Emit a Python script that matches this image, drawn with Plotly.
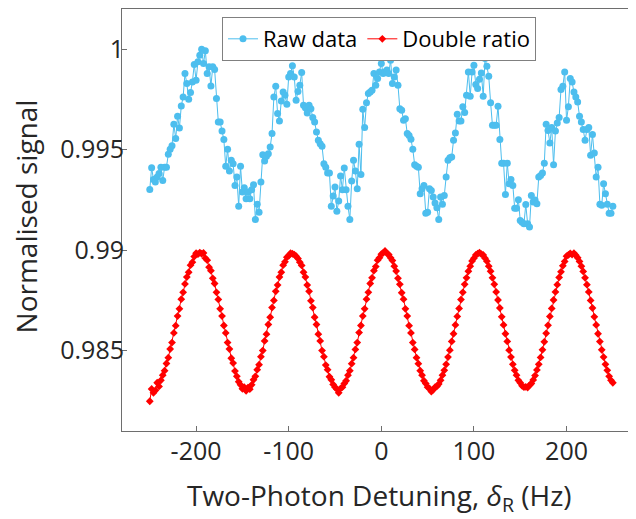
import plotly.graph_objects as go

# Detuning grid (Hz)
detuning_hz = list(range(-250, 251, 2))

# Raw data (normalised signal)
raw_data = [
    0.99302, 0.99410, 0.99351, 0.99339, 0.99364, 0.99381, 0.99413, 0.99347, 0.99413, 0.99413,
    0.99477, 0.99502, 0.99520, 0.99626, 0.99555, 0.99666, 0.99608, 0.99717, 0.99762, 0.99879,
    0.99829, 0.99751, 0.99784, 0.99837, 0.99924, 0.99846, 0.99937, 0.99970, 1.00000, 0.99929,
    0.99992, 0.99879, 0.99912, 0.99817, 0.99912, 0.99899, 0.99754, 0.99638, 0.99638, 0.99593,
    0.99550, 0.99417, 0.99502, 0.99394, 0.99447, 0.99430, 0.99322, 0.99364, 0.99219, 0.99417,
    0.99289, 0.99311, 0.99256, 0.99289, 0.99256, 0.99300, 0.99326, 0.99153, 0.99228, 0.99189,
    0.99339, 0.99475, 0.99443, 0.99467, 0.99480, 0.99513, 0.99580, 0.99762, 0.99816, 0.99680,
    0.99643, 0.99742, 0.99787, 0.99771, 0.99726, 0.99862, 0.99879, 0.99917, 0.99862, 0.99746,
    0.99790, 0.99821, 0.99884, 0.99721, 0.99708, 0.99683, 0.99721, 0.99704, 0.99660, 0.99638,
    0.99588, 0.99547, 0.99530, 0.99517, 0.99430, 0.99413, 0.99384, 0.99384, 0.99218, 0.99269,
    0.99314, 0.99193, 0.99244, 0.99369, 0.99301, 0.99409, 0.99301, 0.99219, 0.99153, 0.99344,
    0.99447, 0.99394, 0.99306, 0.99527, 0.99377, 0.99701, 0.99610, 0.99734, 0.99779, 0.99787,
    0.99796, 0.99879, 0.99821, 0.99854, 0.99887, 0.99929, 0.99879, 0.99887, 0.99896, 0.99879,
    0.99945, 0.99829, 0.99862, 0.99896, 0.99821, 0.99704, 0.99696, 0.99646, 0.99654, 0.99580,
    0.99571, 0.99552, 0.99502, 0.99425, 0.99417, 0.99413, 0.99281, 0.99306, 0.99322, 0.99184,
    0.99189, 0.99306, 0.99297, 0.99264, 0.99234, 0.99211, 0.99153, 0.99264, 0.99228, 0.99272,
    0.99364, 0.99447, 0.99460, 0.99463, 0.99547, 0.99583, 0.99676, 0.99643, 0.99643, 0.99713,
    0.99685, 0.99771, 0.99887, 0.99766, 0.99887, 0.99920, 0.99824, 0.99804, 0.99851, 0.99882,
    0.99766, 0.99954, 0.99915, 0.99865, 0.99734, 0.99621, 0.99621, 0.99621, 0.99716, 0.99550,
    0.99433, 0.99433, 0.99277, 0.99433, 0.99331, 0.99351, 0.99322, 0.99209, 0.99209, 0.99251,
    0.99148, 0.99139, 0.99131, 0.99227, 0.99131, 0.99115, 0.99272, 0.99239, 0.99250, 0.99231,
    0.99364, 0.99372, 0.99384, 0.99433, 0.99626, 0.99596, 0.99533, 0.99610, 0.99425, 0.99593,
    0.99633, 0.99660, 0.99799, 0.99816, 0.99887, 0.99646, 0.99713, 0.99854, 0.99837, 0.99787,
    0.99762, 0.99737, 0.99666, 0.99638, 0.99600, 0.99547, 0.99600, 0.99610, 0.99472, 0.99576,
    0.99483, 0.99364, 0.99413, 0.99228, 0.99223, 0.99331, 0.99281, 0.99228, 0.99184, 0.99184,
    0.99218,
]

# Double ratio
double_ratio = [
    0.98248, 0.98309, 0.98290, 0.98302, 0.98340, 0.98322, 0.98352, 0.98378, 0.98400, 0.98436,
    0.98465, 0.98508, 0.98540, 0.98588, 0.98624, 0.98672, 0.98708, 0.98756, 0.98790, 0.98832,
    0.98866, 0.98890, 0.98925, 0.98940, 0.98968, 0.98985, 0.98980, 0.98988,
    0.98982, 0.98986, 0.98960, 0.98950, 0.98915, 0.98898, 0.98860, 0.98834, 0.98790, 0.98755,
    0.98708, 0.98672, 0.98625, 0.98588, 0.98540, 0.98508, 0.98462, 0.98438, 0.98398, 0.98372,
    0.98345, 0.98330, 0.98310, 0.98318, 0.98300,
    0.98316, 0.98308, 0.98330, 0.98355, 0.98372, 0.98405, 0.98430, 0.98470, 0.98500, 0.98548,
    0.98582, 0.98630, 0.98666, 0.98714, 0.98750, 0.98795, 0.98826, 0.98866, 0.98890, 0.98925,
    0.98942, 0.98965, 0.98972, 0.98985, 0.98982,
    0.98978, 0.98970, 0.98958, 0.98940, 0.98924, 0.98890, 0.98866, 0.98826, 0.98795, 0.98748,
    0.98714, 0.98666, 0.98630, 0.98582, 0.98548, 0.98500, 0.98470, 0.98428, 0.98405, 0.98370,
    0.98355, 0.98332, 0.98318, 0.98308, 0.98290,
    0.98312, 0.98318, 0.98336, 0.98350, 0.98378, 0.98400, 0.98435, 0.98465, 0.98506, 0.98540,
    0.98590, 0.98625, 0.98672, 0.98708, 0.98756, 0.98790, 0.98834, 0.98862, 0.98898, 0.98918,
    0.98950, 0.98962, 0.98980, 0.98986, 0.98996,
    0.98984, 0.98978, 0.98962, 0.98948, 0.98920, 0.98896, 0.98860, 0.98830, 0.98788, 0.98756,
    0.98708, 0.98672, 0.98624, 0.98588, 0.98540, 0.98506, 0.98465, 0.98435, 0.98400, 0.98378,
    0.98350, 0.98336, 0.98318, 0.98312, 0.98296, 0.98305,
    0.98318, 0.98322, 0.98334, 0.98352, 0.98378, 0.98402, 0.98432, 0.98468, 0.98502, 0.98546,
    0.98584, 0.98628, 0.98670, 0.98710, 0.98754, 0.98790, 0.98830, 0.98862, 0.98895, 0.98920,
    0.98946, 0.98960, 0.98976, 0.98982, 0.98988,
    0.98980, 0.98976, 0.98960, 0.98945, 0.98920, 0.98895, 0.98862, 0.98830, 0.98792, 0.98752,
    0.98712, 0.98668, 0.98628, 0.98584, 0.98546, 0.98502, 0.98468, 0.98432, 0.98402, 0.98378,
    0.98352, 0.98340, 0.98325, 0.98318, 0.98320,
    0.98316, 0.98328, 0.98336, 0.98354, 0.98376, 0.98404, 0.98432, 0.98466, 0.98504, 0.98544,
    0.98586, 0.98626, 0.98670, 0.98710, 0.98752, 0.98792, 0.98828, 0.98864, 0.98892, 0.98922,
    0.98944, 0.98970, 0.98976, 0.98984, 0.98978,
    0.98985, 0.98975, 0.98962, 0.98944, 0.98920, 0.98894, 0.98862, 0.98828, 0.98792, 0.98750,
    0.98712, 0.98668, 0.98628, 0.98584, 0.98545, 0.98504, 0.98468, 0.98432, 0.98402, 0.98372,
    0.98352, 0.98340,
]

x_tick_vals = [-200, -100, 0, 100, 200]
x_tick_text = ["-200", "-100", "0", "100", "200"]
y_tick_vals = [0.985, 0.99, 0.995, 1.0]
y_tick_text = ["0.985", "0.99", "0.995", "1"]
x_title = "Two-Photon Detuning, <i>δ</i><sub>R</sub> (Hz)"
y_title = "Normalised signal"

AXIS_COLOR = "#6e6e6e"
TEXT_COLOR = "#262626"
FONT = "Open Sans"

fig = go.Figure()
fig.add_trace(go.Scatter(
    x=detuning_hz[:len(raw_data)], y=raw_data, name="Raw data",
    mode="lines+markers",
    line=dict(color="#4DBEEE", width=1),
    marker=dict(color="#4DBEEE", size=7, symbol="circle"),
))
fig.add_trace(go.Scatter(
    x=detuning_hz[:len(double_ratio)], y=double_ratio, name="Double ratio",
    mode="lines+markers",
    line=dict(color="#FF0000", width=1),
    marker=dict(color="#FF0000", size=6, symbol="diamond"),
))

# The page body adds an 8px offset, so the figure is 8px smaller each way.
fig.update_layout(
    width=628, height=511,
    margin=dict(l=114, r=0, t=1, b=88, autoexpand=False),
    plot_bgcolor="white", paper_bgcolor="white",
    font=dict(family=FONT, color=TEXT_COLOR),
    showlegend=True,
    legend=dict(
        orientation="h", x=0.5, xanchor="center", y=0.981, yanchor="top",
        bordercolor="#808080", borderwidth=1, bgcolor="white",
        font=dict(size=22, family=FONT, color="black"),
        itemwidth=30, tracegroupgap=0,
    ),
    annotations=[
        dict(text=x_title, xref="paper", yref="paper", x=0.5, y=-0.101,
             xanchor="center", yanchor="top", showarrow=False,
             font=dict(size=28, family=FONT, color=TEXT_COLOR)),
        dict(text=y_title, xref="paper", yref="paper", x=-0.1871, y=0.508,
             xanchor="center", yanchor="middle", textangle=-90, showarrow=False,
             borderpad=0,
             font=dict(size=28, family=FONT, color=TEXT_COLOR)),
    ],
)
fig.update_xaxes(
    range=[-280, 275], automargin=False,
    tickmode="array", tickvals=x_tick_vals, ticktext=x_tick_text,
    ticks="inside", ticklen=5, tickcolor=AXIS_COLOR, tickwidth=1,
    showline=True, linecolor=AXIS_COLOR, linewidth=1, mirror=True,
    showgrid=False, zeroline=False, ticklabelstandoff=-2,
    tickfont=dict(size=25, family=FONT, color=TEXT_COLOR),
)
fig.update_yaxes(
    range=[0.981, 1.002], automargin=False,
    tickmode="array", tickvals=y_tick_vals, ticktext=y_tick_text,
    ticks="inside", ticklen=5, tickcolor=AXIS_COLOR, tickwidth=1,
    showline=True, linecolor=AXIS_COLOR, linewidth=1, mirror=False,
    showgrid=False, zeroline=False, ticklabelstandoff=-8,
    tickfont=dict(size=25, family=FONT, color=TEXT_COLOR),
)

fig.write_html("out.html")
